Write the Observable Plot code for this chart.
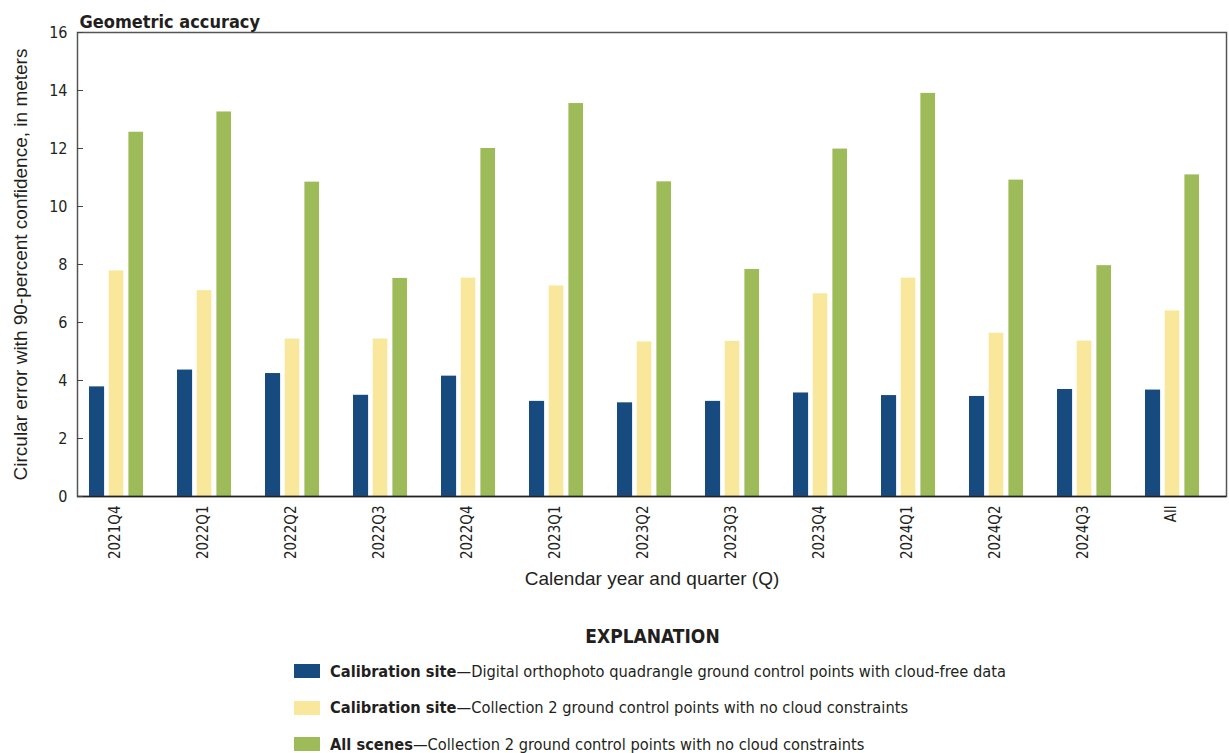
<!DOCTYPE html>
<html>
<head>
<meta charset="utf-8">
<script src="https://cdn.jsdelivr.net/npm/d3@7"></script>
<script src="https://cdn.jsdelivr.net/npm/@observablehq/plot@0.6"></script>
<style>
  body { margin: 0; background: #fff; }
  #wrap { position: relative; width: 1229px; height: 753px; overflow: hidden; }
  #legend { position: absolute; left: 0; top: 620px; width: 1229px; font-family: "Liberation Sans Narrow", "DejaVu Sans Condensed", sans-serif; color: #231f20; }
  #legend .head { text-align: center; font-weight: bold; font-size: 19px; margin-left: 76px; height: 33px; line-height: 32px; }
  #legend .item { position: relative; height: 36.5px; margin-left: 294px; display: flex; align-items: center; font-size: 16.3px; }
  #legend .sw { width: 26px; height: 14px; margin-right: 10px; flex: none; }
  #legend b { font-weight: bold; }
</style>
</head>
<body>
<div id="wrap">
  <div id="chart"></div>
  <div id="legend"></div>
</div>
<script>
// ---- Data ----
const quarters = ["2021Q4","2022Q1","2022Q2","2022Q3","2022Q4","2023Q1","2023Q2","2023Q3","2023Q4","2024Q1","2024Q2","2024Q3","All"];
const calibrationDOQ = [3.78, 4.36, 4.24, 3.49, 4.15, 3.28, 3.23, 3.28, 3.57, 3.48, 3.45, 3.69, 3.67];
const calibrationC2  = [7.78, 7.10, 5.43, 5.43, 7.53, 7.26, 5.33, 5.35, 6.99, 7.53, 5.63, 5.36, 6.40];
const allScenesC2    = [12.56, 13.26, 10.84, 7.52, 12.00, 13.55, 10.85, 7.83, 11.98, 13.90, 10.91, 7.96, 11.09];
const yTicks = [0, 2, 4, 6, 8, 10, 12, 14, 16];
const seriesBold = ["Calibration site", "Calibration site", "All scenes"];
const seriesDesc = [
  "Digital orthophoto quadrangle ground control points with cloud-free data",
  "Collection 2 ground control points with no cloud constraints",
  "Collection 2 ground control points with no cloud constraints"
];
const seriesColors = ["#174a7e", "#f9e89b", "#9dbb59"];
const titleText = "Geometric accuracy";
const yLabel = "Circular error with 90-percent confidence, in meters";
const xLabel = "Calendar year and quarter (Q)";

// ---- Build table ----
const seriesValues = [calibrationDOQ, calibrationC2, allScenesC2];
const rows = quarters.flatMap((q, i) => seriesValues.map((vals, s) => ({quarter: q, series: s, value: vals[i]})));

const narrow = "Liberation Sans Narrow, DejaVu Sans Condensed, sans-serif";
const regular = "Liberation Sans, Arial, sans-serif";
// bar placement within each quarter band (style only)
const insets = [[9, 63.9], [28.7, 44.65], [48.4, 24.95]];

const chart = Plot.plot({
  width: 1229,
  height: 605,
  marginLeft: 77,
  marginRight: 3,
  marginTop: 32,
  marginBottom: 109,
  style: {fontFamily: narrow, fontSize: "15px", color: "#231f20", background: "#fff"},
  x: {domain: quarters, padding: 0},
  y: {domain: [0, 16]},
  marks: [
    ...seriesValues.map((_, s) => Plot.barY(rows.filter(d => d.series === s), {
      x: "quarter", y: "value", fill: seriesColors[s],
      insetLeft: insets[s][0], insetRight: insets[s][1]
    })),
    Plot.frame({stroke: "#555", strokeWidth: 1.5}),
    Plot.ruleY([0], {stroke: "#222", strokeWidth: 1.6}),
    Plot.axisY({ticks: yTicks, tickSize: -6, tickPadding: 16, fontSize: 16, label: null, stroke: "#444"}),
    Plot.axisX({tickSize: 0, tickRotate: -90, tickPadding: 9, dx: -9, fontSize: 15, label: null}),
    Plot.text([xLabel], {text: d => d, frameAnchor: "bottom", dy: 88, fontSize: 19, fontFamily: regular, fill: "#231f20"}),
    Plot.text([yLabel], {text: d => d, frameAnchor: "left", textAnchor: "middle", rotate: -90, dx: -57, fontSize: 19, fontFamily: regular, fill: "#231f20"}),
    Plot.text([titleText], {text: d => d, frameAnchor: "top-left", dx: 2, dy: -5, lineAnchor: "bottom", textAnchor: "start", fontSize: 18, fontWeight: "bold", fontFamily: narrow, fill: "#231f20"})
  ]
});
document.getElementById("chart").append(chart);

// ---- Legend ----
const legend = document.getElementById("legend");
const head = document.createElement("div");
head.className = "head";
head.textContent = "EXPLANATION";
legend.append(head);
seriesColors.forEach((c, s) => {
  const item = document.createElement("div");
  item.className = "item";
  const sw = document.createElement("span");
  sw.className = "sw";
  sw.style.background = c;
  const t = document.createElement("span");
  const b = document.createElement("b");
  b.textContent = seriesBold[s];
  t.append(b, "\u2014" + seriesDesc[s]);
  item.append(sw, t);
  legend.append(item);
});
</script>
</body>
</html>
